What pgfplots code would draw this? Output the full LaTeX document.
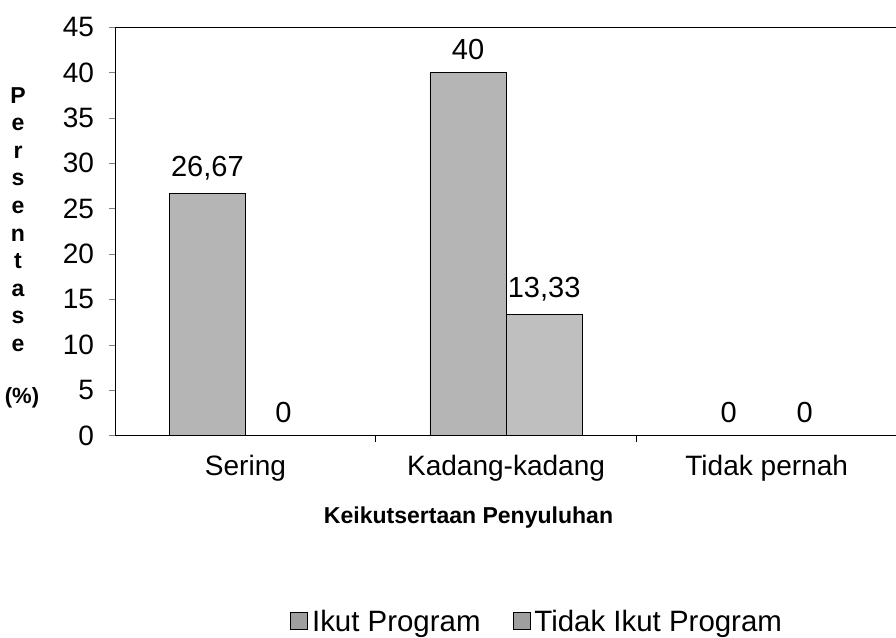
\documentclass[border=0pt]{standalone}
\usepackage{pgfplots}
\pgfplotsset{compat=1.18}
\usepackage{fontspec}
\setmainfont{Liberation Sans}
\begin{document}
\begin{tikzpicture}
\begin{axis}[
  name=ax,
  scale only axis,
  width=390.5pt, height=204pt,
  xmin=-0.5, xmax=2.5,
  ymin=0, ymax=45,
  ytick={0,5,...,45},
  xtick={0,1,2},
  xticklabels={Sering, Kadang-kadang, Tidak pernah},
  xtick style={draw=none},
  ytick pos=left,
  tick align=outside,
  major tick length=3pt,
  /pgf/number format/assume math mode=true,
  yticklabel style={font=\fontsize{14}{16}\selectfont, xshift=-4pt},
  xticklabel style={font=\fontsize{14}{16}\selectfont, yshift=-3.5pt},
  ybar=0pt, bar width=38pt,
  nodes near coords={\pgfmathprintnumber[use comma,fixed,precision=2]{\pgfplotspointmeta}},
  every node near coord/.append style={font=\fontsize{14.5}{16}\selectfont, yshift=3pt},
  xlabel={Keikutsertaan Penyuluhan},
  xlabel style={at={(rel axis cs:0.452,0)}, anchor=center, yshift=-41pt, font=\bfseries\fontsize{11.5}{13}\selectfont},
  legend style={at={(0.541,-0.458)}, anchor=center, draw=none, legend columns=2,
    font=\fontsize{14.7}{16}\selectfont, /tikz/every even column/.append style={column sep=14pt}},
  legend image code/.code={\draw[#1, fill=gray!75] (0pt,-3.5pt) rectangle (8.5pt,5pt);},
  clip=false,
]
\addplot[draw=black, fill=gray!58] coordinates {(0,26.67) (1,40) (2,0)};
\addplot[draw=black, fill=gray!50] coordinates {(0,0) (1,13.33) (2,0)};
\legend{Ikut Program, Tidak Ikut Program}
\node[font=\bfseries\fontsize{11.5}{13.75}\selectfont, align=center, xshift=-48.5pt] at (axis cs:-0.5,23.8) {P\\e\\r\\s\\e\\n\\t\\a\\s\\e};
\node[font=\bfseries\fontsize{11}{13}\selectfont, xshift=-46.5pt] at (axis cs:-0.5,4.2) {(\%)};
\draw (axis cs:0.5,0) -- ([yshift=-3.5pt]axis cs:0.5,0);
\draw (axis cs:1.5,0) -- ([yshift=-3.5pt]axis cs:1.5,0);
\end{axis}
\pgfresetboundingbox
\path[use as bounding box] ([shift={(-57.5pt,-101pt)}]ax.south west) rectangle ([shift={(-0.5pt,13.5pt)}]ax.north east);
\end{tikzpicture}
\end{document}
